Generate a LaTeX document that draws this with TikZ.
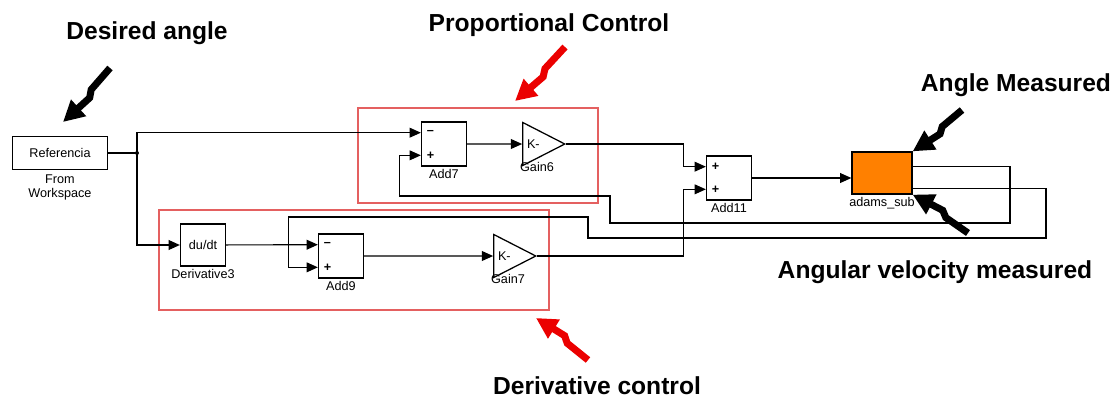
\documentclass[tikz,border=0pt]{standalone}
\usepackage{fontspec}
\setmainfont{Liberation Sans}
\usetikzlibrary{arrows.meta,positioning,calc,shapes.geometric}
\definecolor{simorange}{RGB}{255,128,0}
\definecolor{grpred}{RGB}{228,96,96}
\definecolor{boltred}{RGB}{235,0,0}

\begin{document}
\begin{tikzpicture}[x=0.025cm,y=-0.025cm,>=Stealth,font=\fontsize{9}{10}\selectfont,
 blk/.style={draw,line width=0.9pt,inner sep=0pt,align=center},
 sumblk/.style={blk,minimum width=1.125cm,minimum height=1.1cm},
 gain/.style={blk,isosceles triangle,isosceles triangle stretches,minimum width=1.075cm,minimum height=1.05cm,text width=0.5cm,align=left},
 sgn/.style={font=\fontsize{9}{9}\selectfont\bfseries,inner sep=0pt},
 lbl/.style={font=\fontsize{9}{10}\selectfont,inner sep=0pt,align=center},
 sig/.style={line width=0.8pt,-{Triangle[length=8pt,width=7pt]}},
 grp/.style={draw=grpred,line width=0.8pt},
 note/.style={font=\fontsize{17.5}{20}\selectfont\bfseries},
 bolt/.style={line width=5pt,line join=miter,-{Triangle[length=15pt,width=15pt]}}]
\useasboundingbox (0,0) rectangle (1118,403);
\node[grp,minimum width=6cm,minimum height=2.375cm] (pbox) at (478,155.5) {};
\node[grp,minimum width=9.75cm,minimum height=2.5cm] (dbox) at (354,260) {};
\node[blk,minimum width=2.375cm,minimum height=0.825cm] (ref) at (60,153) {Referencia};
\node[lbl,below=3pt of ref] (refl) {From\\Workspace};
\coordinate (j) at (137,153);
\node[blk,minimum width=1.125cm,minimum height=1.05cm] (der) at (203,245) {du/dt};
\node[lbl,below=2pt of der] (derl) {Derivative3};
\node[sumblk] (add9) at (341,256) {};
\node[lbl,below=2pt of add9] (add9l) {Add9};
\node[gain] (gain7) at (508,256) {K-};
\node[lbl,below=2pt of gain7] (gain7l) {Gain7};
\node[sumblk] (add7) at (444,144) {};
\node[lbl,below=2pt of add7] (add7l) {Add7};
\node[gain] (gain6) at (537,144) {K-};
\node[lbl,below=2pt of gain6] (gain6l) {Gain6};
\node[sumblk] (add11) at (729,178) {};
\node[lbl,below=2pt of add11] (add11l) {Add11};
\node[blk,fill=simorange,minimum width=1.5cm,minimum height=1.05cm] (adams) at (882,173) {};
\node[lbl,below=2pt of adams] (adamsl) {adams\_sub};
\coordinate (in71) at ($(add7.north west)!0.25!(add7.south west)$);
\coordinate (in72) at ($(add7.north west)!0.75!(add7.south west)$);
\coordinate (in91) at ($(add9.north west)!0.25!(add9.south west)$);
\coordinate (in92) at ($(add9.north west)!0.75!(add9.south west)$);
\coordinate (in111) at ($(add11.north west)!0.25!(add11.south west)$);
\coordinate (in112) at ($(add11.north west)!0.75!(add11.south west)$);
\coordinate (o1) at ($(adams.north east)!0.35!(adams.south east)$);
\coordinate (o2) at ($(adams.north east)!0.85!(adams.south east)$);
\node[sgn,right=4pt of in71] (s71) {–}; \node[sgn,right=4pt of in72] (s72) {+};
\node[sgn,right=4pt of in91] (s91) {–}; \node[sgn,right=4pt of in92] (s92) {+};
\node[sgn,right=4pt of in111] (s111) {+}; \node[sgn,right=4pt of in112] (s112) {+};
\draw[line width=0.8pt] (ref) -- (j); \fill (j) circle (2);
\draw[sig] (j) |- (in71);
\draw[sig] (j) |- (der.west);
\draw[sig] (der) -- (in91);
\draw[sig] (add9) -- (gain7);
\draw[sig] (add7) -- (gain6);
\draw[sig] (gain6.apex) -| ([xshift=-0.55cm]in111) -- (in111);
\draw[sig] (gain7.apex) -| ([xshift=-0.55cm]in112) -- (in112);
\draw[sig] (add11) -- (add11 -| adams.west);
\draw[sig] (o1) -| (1010,223) -| (610,196) -| ([xshift=-0.525cm]in72) -- (in72);
\draw[sig] (o2) -| (1046,238) -| (588,217) -| ([xshift=-0.725cm]in92) -- (in92);
\node[note] (desl) at (147,33) {Desired angle};
\node[note] (propl) at (549,25) {Proportional Control};
\node[note] (dctl) at (597,386) {Derivative control};
\node[note] (angl) at (1016,85) {Angle Measured};
\node[note] (velol) at (935,272) {Angular velocity measured};
\coordinate (bd) at (110,68); \coordinate (bdt) at (63,122);
\coordinate (bp) at (565,47); \coordinate (bpt) at (515,101);
\coordinate (bc) at (588,360); \coordinate (bct) at (536,318);
\coordinate (ba) at (962,110); \coordinate (bv) at (968,233);
\draw[bolt] (bd) -- ($(bd)!0.4!(bdt)$) -- ($(bd)!0.5!(bdt)!3pt!90:(bdt)$) -- (bdt);
\draw[bolt,boltred] (bp) -- ($(bp)!0.4!(bpt)$) -- ($(bp)!0.5!(bpt)!3pt!90:(bpt)$) -- (bpt);
\draw[bolt,boltred] (bc) -- ($(bc)!0.4!(bct)$) -- ($(bc)!0.5!(bct)!3pt!-90:(bct)$) -- (bct);
\draw[bolt] (ba) -- ($(ba)!0.4!(adams.north east)$) -- ($(ba)!0.5!(adams.north east)!3pt!90:(adams.north east)$) -- (adams.north east);
\draw[bolt] (bv) -- ($(bv)!0.4!(adams.south east)$) -- ($(bv)!0.5!(adams.south east)!3pt!-90:(adams.south east)$) -- (adams.south east);
\end{tikzpicture}
\end{document}
